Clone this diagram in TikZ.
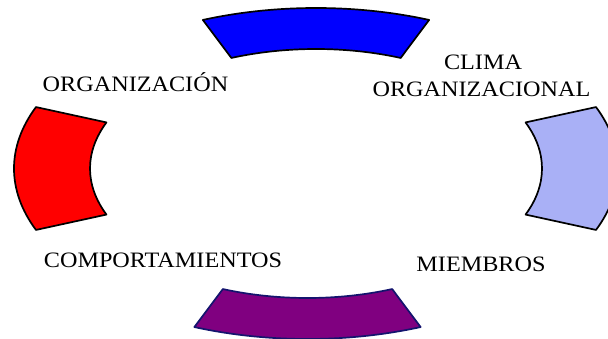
\documentclass[tikz,border=0pt]{standalone}
\usepackage{fontspec}
\setmainfont{Liberation Serif}
\definecolor{lavender}{RGB}{169,176,246}
\definecolor{plum}{RGB}{128,0,128}
\definecolor{navy}{RGB}{20,20,110}

\begin{document}
\begin{tikzpicture}[x=1pt, y=1pt,
    piece/.style={line width=1.7pt, line join=round},
    lbl/.style={inner sep=0pt, anchor=base, xscale=1.1, font=\fontsize{22}{27}\selectfont}]
    \useasboundingbox (0,0) rectangle (608,338);
    % top piece
    \begin{scope}[shift={(316,166)}]
        \draw[piece, fill=blue] (68:302 and 164) arc[start angle=68, end angle=112, x radius=302, y radius=164]
            -- (112:226 and 123) arc[start angle=112, end angle=68, x radius=226, y radius=123] -- cycle;
    \end{scope}
    % left piece
    \begin{scope}[shift={(316,169.5)}]
        \draw[piece, fill=red] (158:302 and 164) arc[start angle=158, end angle=202, x radius=302, y radius=164]
            -- (202:226 and 123) arc[start angle=202, end angle=158, x radius=226, y radius=123] -- cycle;
    \end{scope}
    % right piece
    \begin{scope}[shift={(316,169.5)}]
        \draw[piece, fill=lavender] (-22:302 and 164) arc[start angle=-22, end angle=22, x radius=302, y radius=164]
            -- (22:226 and 123) arc[start angle=22, end angle=-22, x radius=226, y radius=123] -- cycle;
    \end{scope}
    % bottom piece
    \begin{scope}[shift={(307.5,163)}]
        \draw[piece, draw=navy, fill=plum] (248:302 and 164) arc[start angle=248, end angle=292, x radius=302, y radius=164]
            -- (292:226 and 123) arc[start angle=292, end angle=248, x radius=226, y radius=123] -- cycle;
    \end{scope}
    % labels
    \node[lbl] (org) at (135.5,246.3) {ORGANIZACIÓN};
    \node[lbl] (clima) at (483,268) {CLIMA};
    \node[lbl] (climaorg) at (481.5,241.3) {ORGANIZACIONAL};
    \node[lbl] (comp) at (163,71) {COMPORTAMIENTOS};
    \node[lbl] (miem) at (481,66.3) {MIEMBROS};
\end{tikzpicture}
\end{document}
